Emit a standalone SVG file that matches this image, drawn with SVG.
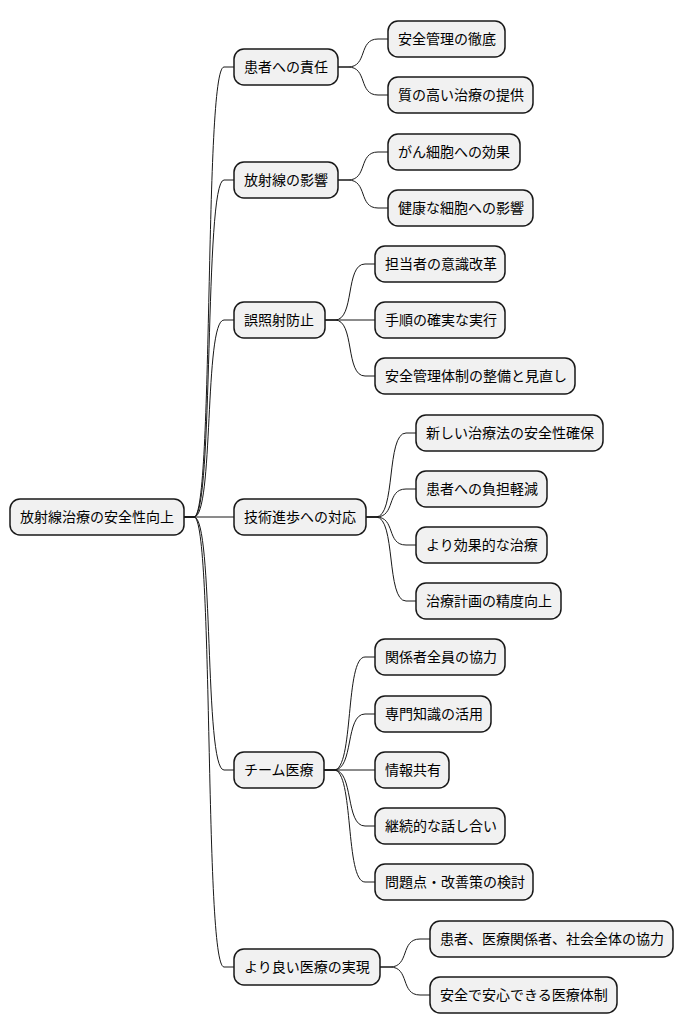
<svg xmlns="http://www.w3.org/2000/svg" width="684" height="1034" viewBox="0 0 684 1034">
<style>
.n rect{fill:#f1f1f1;stroke:#181818;stroke-width:1.5}
.n text{font-family:"Noto Sans CJK JP","Liberation Sans",sans-serif;font-size:14px;fill:#000}
#c path{fill:none;stroke:#181818;stroke-width:1}
</style>
<rect width="684" height="1034" fill="#fff"/>
<g id="c">
<path d="M184,517 L194,517 C214,517 204,67 224,67 L234,67"/>
<path d="M184,517 L194,517 C214,517 204,180 224,180 L234,180"/>
<path d="M184,517 L194,517 C214,517 204,320 224,320 L234,320"/>
<path d="M184,517 L234,517"/>
<path d="M184,517 L194,517 C214,517 204,770 224,770 L234,770"/>
<path d="M184,517 L194,517 C214,517 204,967 224,967 L234,967"/>
<path d="M338,67 L348,67 C368,67 358,39 378,39 L388,39"/>
<path d="M338,67 L348,67 C368,67 358,95 378,95 L388,95"/>
<path d="M338,180 L348,180 C368,180 358,152 378,152 L388,152"/>
<path d="M338,180 L348,180 C368,180 358,208 378,208 L388,208"/>
<path d="M325,320 L335,320 C355,320 345,264 365,264 L375,264"/>
<path d="M325,320 L375,320"/>
<path d="M325,320 L335,320 C355,320 345,376 365,376 L375,376"/>
<path d="M366,517 L376,517 C396,517 386,433 406,433 L416,433"/>
<path d="M366,517 L376,517 C396,517 386,489 406,489 L416,489"/>
<path d="M366,517 L376,517 C396,517 386,545 406,545 L416,545"/>
<path d="M366,517 L376,517 C396,517 386,601 406,601 L416,601"/>
<path d="M324,770 L334,770 C354,770 345,657 365,657 L375,657"/>
<path d="M324,770 L334,770 C354,770 345,714 365,714 L375,714"/>
<path d="M324,770 L375,770"/>
<path d="M324,770 L334,770 C354,770 345,826 365,826 L375,826"/>
<path d="M324,770 L334,770 C354,770 345,882 365,882 L375,882"/>
<path d="M380,967 L390,967 C410,967 400,939 420,939 L430,939"/>
<path d="M380,967 L390,967 C410,967 400,995 420,995 L430,995"/>
</g>
<g id="root" class="n"><rect x="10" y="499" width="174" height="36" rx="10"/><text x="20" y="522">放射線治療の安全性向上</text></g>
<g id="a" class="n"><rect x="234" y="49" width="104" height="36" rx="10"/><text x="244" y="72">患者への責任</text></g>
<g id="b" class="n"><rect x="234" y="162" width="104" height="36" rx="10"/><text x="244" y="185">放射線の影響</text></g>
<g id="c1" class="n"><rect x="234" y="302" width="91" height="36" rx="10"/><text x="244" y="325">誤照射防止</text></g>
<g id="d" class="n"><rect x="234" y="499" width="132" height="36" rx="10"/><text x="244" y="522">技術進歩への対応</text></g>
<g id="e" class="n"><rect x="234" y="752" width="90" height="36" rx="10"/><text x="244" y="775">チーム医療</text></g>
<g id="f" class="n"><rect x="234" y="949" width="146" height="36" rx="10"/><text x="244" y="972">より良い医療の実現</text></g>
<g id="a1" class="n"><rect x="388" y="21" width="117" height="36" rx="10"/><text x="398" y="44">安全管理の徹底</text></g>
<g id="a2" class="n"><rect x="388" y="77" width="145" height="36" rx="10"/><text x="398" y="100">質の高い治療の提供</text></g>
<g id="b1" class="n"><rect x="388" y="134" width="132" height="36" rx="10"/><text x="398" y="157">がん細胞への効果</text></g>
<g id="b2" class="n"><rect x="388" y="190" width="145" height="36" rx="10"/><text x="398" y="213">健康な細胞への影響</text></g>
<g id="c2" class="n"><rect x="375" y="246" width="130" height="36" rx="10"/><text x="385" y="269">担当者の意識改革</text></g>
<g id="c3" class="n"><rect x="375" y="302" width="130" height="36" rx="10"/><text x="385" y="325">手順の確実な実行</text></g>
<g id="c4" class="n"><rect x="375" y="358" width="200" height="36" rx="10"/><text x="385" y="381">安全管理体制の整備と見直し</text></g>
<g id="d1" class="n"><rect x="416" y="415" width="187" height="36" rx="10"/><text x="426" y="438">新しい治療法の安全性確保</text></g>
<g id="d2" class="n"><rect x="416" y="471" width="131" height="36" rx="10"/><text x="426" y="494">患者への負担軽減</text></g>
<g id="d3" class="n"><rect x="416" y="527" width="131" height="36" rx="10"/><text x="426" y="550">より効果的な治療</text></g>
<g id="d4" class="n"><rect x="416" y="583" width="145" height="36" rx="10"/><text x="426" y="606">治療計画の精度向上</text></g>
<g id="e1" class="n"><rect x="375" y="639" width="130" height="36" rx="10"/><text x="385" y="662">関係者全員の協力</text></g>
<g id="e2" class="n"><rect x="375" y="696" width="116" height="36" rx="10"/><text x="385" y="719">専門知識の活用</text></g>
<g id="e3" class="n"><rect x="375" y="752" width="74" height="36" rx="10"/><text x="385" y="775">情報共有</text></g>
<g id="e4" class="n"><rect x="375" y="808" width="130" height="36" rx="10"/><text x="385" y="831">継続的な話し合い</text></g>
<g id="e5" class="n"><rect x="375" y="864" width="158" height="36" rx="10"/><text x="385" y="887">問題点・改善策の検討</text></g>
<g id="f1" class="n"><rect x="430" y="921" width="243" height="36" rx="10"/><text x="440" y="944">患者、医療関係者、社会全体の協力</text></g>
<g id="f2" class="n"><rect x="430" y="977" width="187" height="36" rx="10"/><text x="440" y="1000">安全で安心できる医療体制</text></g>
</svg>
